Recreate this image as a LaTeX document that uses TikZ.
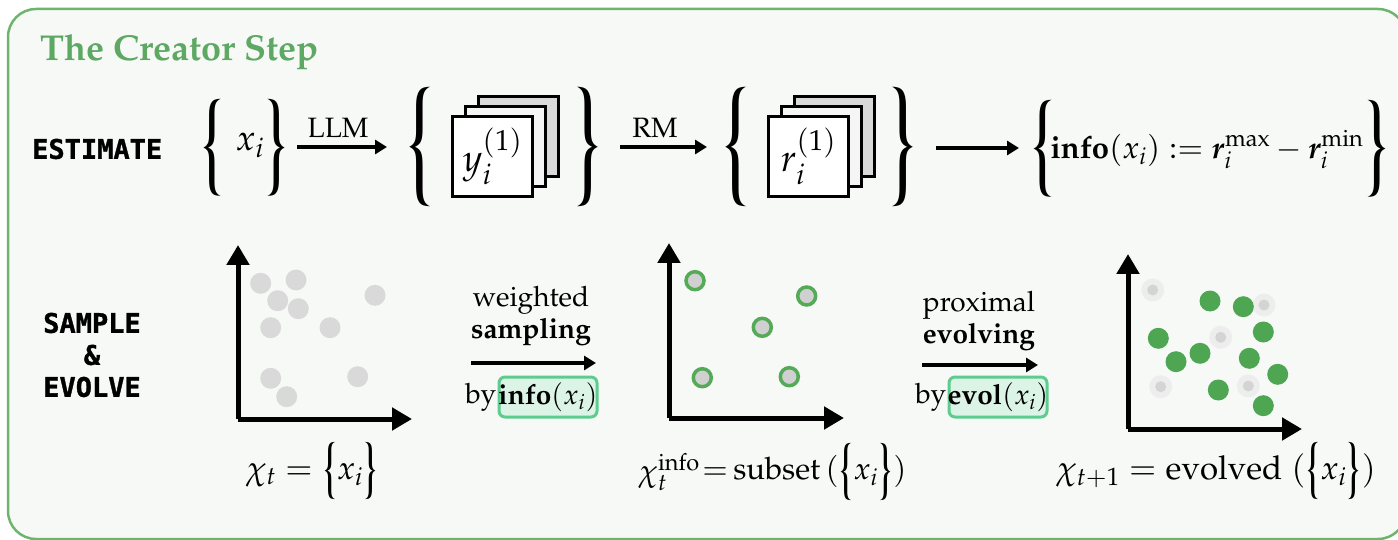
\documentclass[tikz,border=0pt]{standalone}
\usepackage[T1]{fontenc}
\usepackage{mathpazo}
\usepackage{bm}
\usepackage{graphicx}
\usepackage[no-math]{fontspec}
\newfontfamily\monob{DejaVu Sans Mono}[BoldFeatures={FakeBold=1.2}]
\newcommand\pal{\fontencoding{T1}\fontfamily{ppl}\selectfont}
\newcommand\fs[1]{\fontsize{#1}{#1}\selectfont}
\newcommand\bigbr[3]{\resizebox{#1}{#2}{\pal #3}}
\newcommand\sbr[1]{\vcenter{\hbox{\resizebox{15pt}{46pt}{\pal #1}}}}
\usetikzlibrary{arrows.meta}
\definecolor{frame}{HTML}{6DB56F}
\definecolor{bgin}{HTML}{F7F9F7}
\definecolor{titlegreen}{HTML}{5DA862}
\definecolor{dotgrey}{HTML}{D9D9D9}
\definecolor{dotgreen}{HTML}{4EA552}
\definecolor{ringgreen}{HTML}{55AA58}
\definecolor{ringfill}{HTML}{D0D0D0}
\definecolor{halo}{HTML}{EDEDED}
\definecolor{haloin}{HTML}{D4D4D4}
\definecolor{tagborder}{HTML}{5ECC8E}
\definecolor{tagfill}{HTML}{DCF4E6}
\tikzset{
  arr/.style={line width=3.5pt,-{Triangle[length=12pt,width=14pt]}},
  axis/.style={line width=5pt,-{Triangle[length=20pt,width=22pt]}},
  page/.style={draw=black,line width=3.8pt,minimum width=80pt,minimum height=80pt,inner sep=0pt},
  gdot/.style={circle,fill=dotgrey,inner sep=0pt,minimum size=21pt},
  greendot/.style={circle,fill=dotgreen,inner sep=0pt,minimum size=21pt},
  ring/.style={circle,draw=ringgreen,fill=ringfill,line width=3.5pt,inner sep=0pt,minimum size=18pt},
  halodot/.style={circle,fill=halo,inner sep=0pt,minimum size=23pt},
  haloinner/.style={circle,fill=haloin,inner sep=0pt,minimum size=11pt},
  tag/.style={draw=tagborder,fill=tagfill,line width=3pt,rounded corners=6pt,minimum width=98pt,minimum height=40pt,inner sep=0pt},
  lab/.style={font=\pal\fs{28}},
  brace/.style={inner sep=0pt},
  mono/.style={font=\monob\bfseries\fontsize{27}{32}\selectfont,align=center},
}
\begin{document}
\begin{tikzpicture}[x=1pt,y=-1pt]
\useasboundingbox (0,0) rectangle (1398,540);
\begin{scope}
\clip (0,0) rectangle (1398,540);
\draw[frame,line width=2.5pt,fill=bgin,rounded corners=28pt] (8,9) rectangle (1406,539);
\end{scope}
\node[anchor=base west,font=\pal\bfseries\fs{36},text=titlegreen,inner sep=0pt] (title) at (40,61) {The Creator Step};
% ---------- ESTIMATE row
\node[mono,anchor=west,inner sep=0pt] (est) at (32,149) {ESTIMATE};
\node[brace] (xl) at (212,147) {\bigbr{25pt}{78pt}{\{}};
\node[font=\fs{36},inner sep=0pt] (xi) at (250,145) {$x_i$};
\node[brace] (xr) at (277,147) {\bigbr{25pt}{78pt}{\}}};
\coordinate (a1s) at (297,147);
\coordinate (a1e) at (387,147);
\draw[arr] (a1s) -- (a1e);
\node[lab] (llm) at (338,128) {LLM};
\node[brace] (yl) at (420,146) {\bigbr{30pt}{96pt}{\{}};
\node[page,fill=gray!30] (yp3) at (518.5,136.5) {};
\node[page,fill=gray!8] (yp2) at (505.5,146.5) {};
\node[page,fill=white] (yp1) at (492.5,156.5) {};
\node[font=\fs{38}] (ytxt) at (yp1) {$y_i^{(1)}$};
\node[brace] (yr) at (589,146) {\bigbr{30pt}{96pt}{\}}};
\coordinate (a2s) at (620,147);
\coordinate (a2e) at (707,147);
\draw[arr] (a2s) -- (a2e);
\node[lab] (rm) at (655,128) {RM};
\node[brace] (rl) at (736,146) {\bigbr{30pt}{96pt}{\{}};
\node[page,fill=gray!30] (rp3) at (834.5,136.5) {};
\node[page,fill=gray!8] (rp2) at (821.5,146.5) {};
\node[page,fill=white] (rp1) at (808.5,156.5) {};
\node[font=\fs{38}] (rtxt) at (rp1) {$r_i^{(1)}$};
\node[brace] (rr) at (903,146) {\bigbr{30pt}{96pt}{\}}};
\coordinate (a3s) at (936,148);
\coordinate (a3e) at (1019,148);
\draw[arr] (a3s) -- (a3e);
\node[brace] (il) at (1042,148) {\bigbr{26pt}{78pt}{\{}};
\node[font=\fs{31},inner sep=0pt] (info) at (1207,150) {$\mathbf{info}(x_i) \mathrel{:=} \bm{r}_i^{\max} - \bm{r}_i^{\min}$};
\node[brace] (ir) at (1377,148) {\bigbr{26pt}{78pt}{\}}};
% ---------- SAMPLE & EVOLVE row
\node[mono] (se) at (92,355) {SAMPLE\\\&\\EVOLVE};
% plot 1
\coordinate (o1) at (238,419);
\coordinate (y1) at (238,245);
\coordinate (x1) at (412,419);
\draw[axis] (o1) -- (y1);
\draw[axis] (o1) -- (x1);
\foreach \p in {(260.7,283.3),(296,280),(277.7,300.7),(298.3,308.7),(270.7,327.7),(330,327.7),(375,295.3),(270.7,378.3),(357.7,376.7),(286.7,396.7)}
  \node[gdot] at \p {};
\node[font=\fs{33}] (lab1) at (312,471) {$\chi_t\;{=}\;\sbr{\{}x_i\sbr{\}}$};
% arrow 1
\node[lab] (w1) at (531,300) {weighted};
\node[lab,font=\pal\bfseries\fs{28}] (w2) at (531,332) {sampling};
\coordinate (b1s) at (471,363);
\coordinate (b1e) at (596,363);
\draw[arr] (b1s) -- (b1e);
\node[tag] (t1) at (548,397) {};
\node[lab,anchor=east,inner sep=1pt] (by1) at (t1.west) {by};
\node[font=\fs{28}] at (t1) {$\mathbf{info}(x_i)$};
% plot 2
\coordinate (o2) at (669,418);
\coordinate (y2) at (669,243);
\coordinate (x2) at (844,418);
\draw[axis] (o2) -- (y2);
\draw[axis] (o2) -- (x2);
\foreach \p in {(695,280.7),(806.7,296),(762.3,327.3),(702.3,377.7),(789.3,376.7)}
  \node[ring] at \p {};
\node[font=\fs{31},inner sep=0pt,anchor=east] (lab2a) at (700,472) {$\chi_t^{\mathrm{info}}$};
\node[font=\fs{31},inner sep=0pt,anchor=west] (lab2b) at ([xshift=2pt]lab2a.east) {${=}\,\mathrm{subset}\,(\sbr{\{}x_i\sbr{\}})$};
% arrow 2
\node[lab] (p1) at (979,305) {proximal};
\node[lab,font=\pal\bfseries\fs{28}] (p2) at (979,337) {evolving};
\coordinate (b2s) at (922,365);
\coordinate (b2e) at (1038,365);
\draw[arr] (b2s) -- (b2e);
\node[tag] (t2) at (998,397) {};
\node[lab,anchor=east,inner sep=1pt] (by2) at (t2.west) {by};
\node[font=\fs{28}] at (t2) {$\mathbf{evol}(x_i)$};
% plot 3
\coordinate (o3) at (1128,429);
\coordinate (y3) at (1128,254);
\coordinate (x3) at (1302,429);
\draw[axis] (o3) -- (y3);
\draw[axis] (o3) -- (x3);
\foreach \p in {(1152.7,290),(1264,305),(1220.7,337.3),(1160.7,386.7),(1248.3,386)}
  {\node[halodot] at \p {}; \node[haloinner] at \p {};}
\foreach \p in {(1210,301),(1243.3,306.7),(1263.3,332),(1158.3,338.3),(1176,361.7),(1200,353.3),(1249.3,358.3),(1277.7,374.3),(1218.3,390),(1263.3,405.7)}
  \node[greendot] at \p {};
\node[font=\fs{33}] (lab3) at (1216,471) {$\chi_{t+1}\;{=}\;\mathrm{evolved}\;(\sbr{\{}x_i\sbr{\}})$};
\end{tikzpicture}
\end{document}
